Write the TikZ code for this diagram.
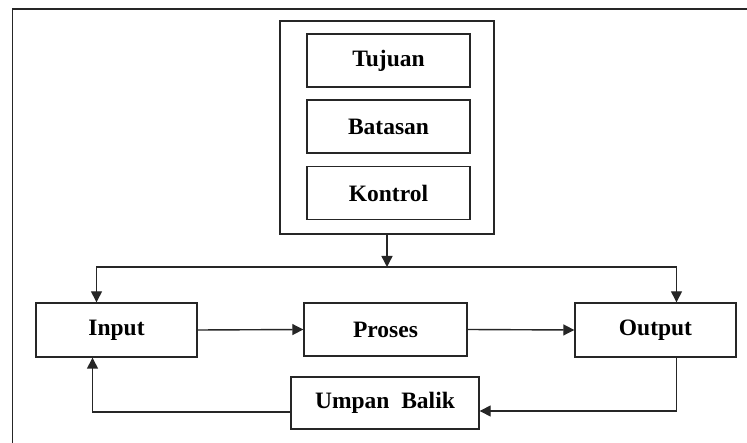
\documentclass[tikz,border=0pt]{standalone}
\usepackage{fontspec}
\setmainfont{Liberation Serif}
\usetikzlibrary{arrows.meta}
\begin{document}
\begin{tikzpicture}[x=1pt,y=-1pt,
  line/.style={draw=black!85,line width=1.4pt},
  box/.style={line,rectangle,inner sep=0pt,align=center,
    font=\fontsize{23.5}{26}\selectfont\bfseries},
  arr/.style={line,-{Triangle[length=11pt,width=11pt]}}]
\useasboundingbox (0,0) rectangle (747,443);
\fill[white] (0,0) rectangle (747,443);
% frame around the diagram
\draw[line] (12.5,443) -- (12.5,9) -- (747,9);
% control group
\node[box,minimum width=214pt,minimum height=213pt] (cont) at (387,127.5) {};
\node[box,minimum width=163pt,minimum height=53pt] (tuj) at (388.5,60.5) {Tujuan};
\node[box,minimum width=163pt,minimum height=53pt] (bat) at (388.5,126.5) {Batasan};
\node[box,minimum width=163pt,minimum height=53pt] (kon) at (388.5,193) {Kontrol};
% process chain
\node[box,minimum width=161pt,minimum height=54pt] (in) at (116.5,330) {Input};
\node[box,minimum width=163pt,minimum height=53pt] (proc) at (385.5,329.5) {Proses};
\node[box,minimum width=161pt,minimum height=54pt] (out) at (655.5,330) {Output};
\node[box,minimum width=188pt,minimum height=52pt] (fb) at (385,403) {Umpan\ \ Balik};
\coordinate (bus) at (387,267);
% connectors
\draw[arr] (cont.south) -- (bus);
\draw[arr] (bus) -| ([xshift=-20pt]in.north);
\draw[arr] (bus) -| ([xshift=21pt]out.north);
\draw[arr] (in.east) -- (proc.west);
\draw[arr] (proc.east) -- (out.west);
\draw[arr] ([xshift=21pt]out.south) |- ([yshift=-8pt]fb.east);
\draw[arr] ([yshift=-9pt]fb.west) -| ([xshift=-24pt]in.south);
\end{tikzpicture}
\end{document}
